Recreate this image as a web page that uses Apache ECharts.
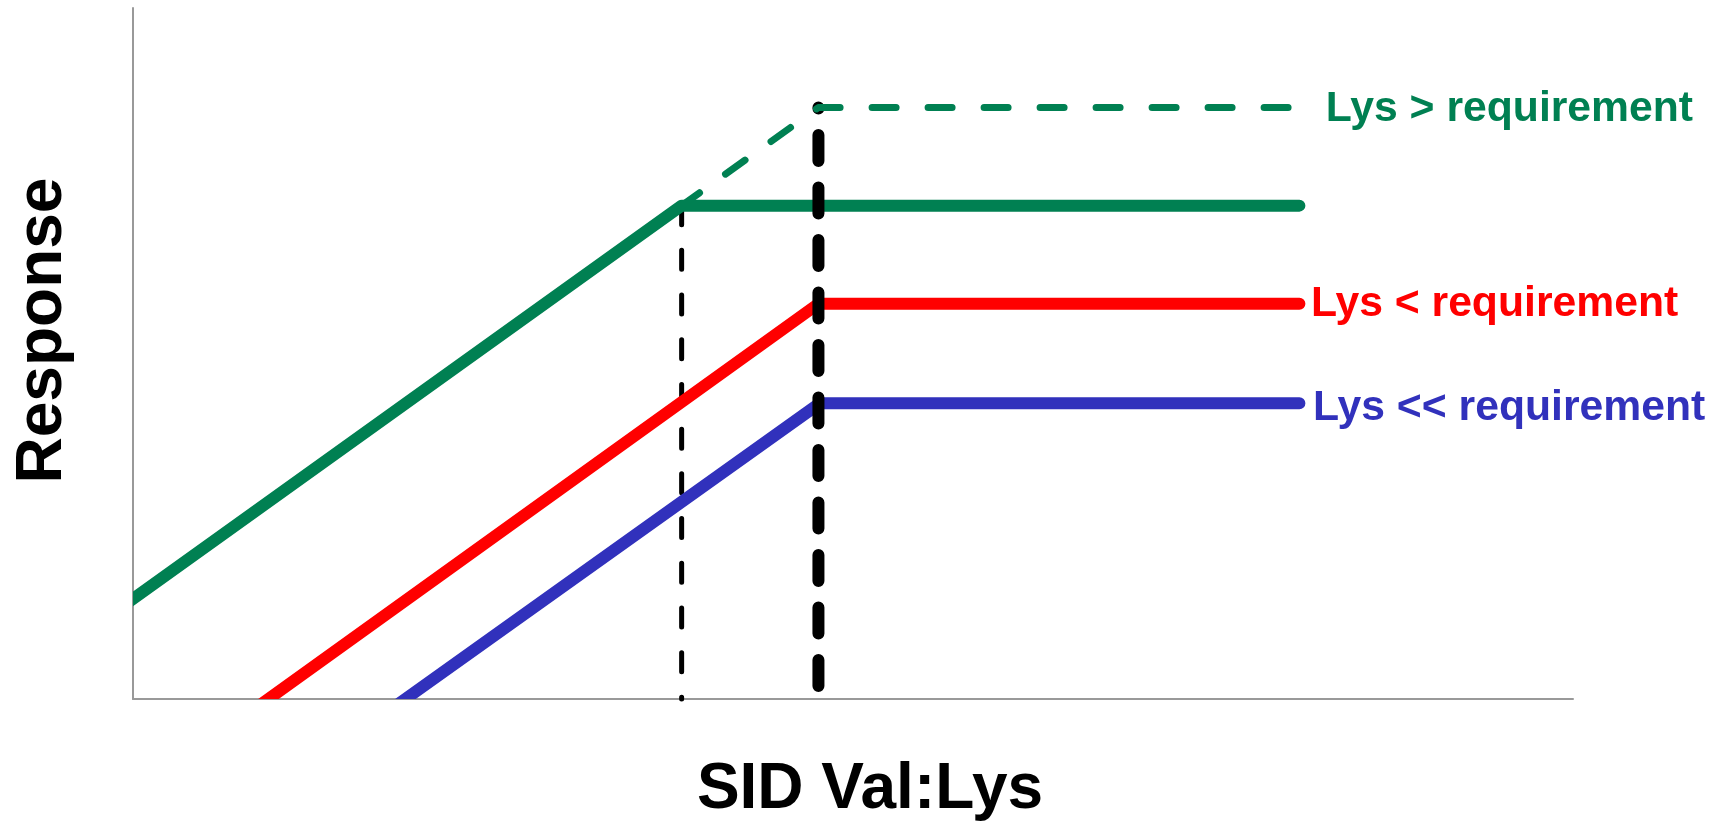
<!DOCTYPE html>
<html>
<head>
<meta charset="utf-8">
<script src="https://cdn.jsdelivr.net/npm/echarts@6/dist/echarts.min.js"></script>
<style>
html,body{margin:0;padding:0;background:#fff;}
#chart{width:1727px;height:823px;}
</style>
</head>
<body>
<div id="chart"></div>
<script>
// ---- data (abstract units: x 0..100, y 0..100) ----
const greenSolid  = [[-3, 10.0], [38.1, 71.4], [81.0, 71.4]];
const greenDashed = [[38.1, 71.4], [47.6, 85.6], [80.4, 85.6]];
const redLine     = [[7.4, -3], [47.6, 57.2], [81.0, 57.2]];
const blueLine    = [[16.9, -3], [47.7, 42.8], [81.0, 42.8]];
const thinGuide   = [[38.1, 71.4], [38.1, 0]];
const thickGuide  = [[47.6, 85.6], [47.6, 0]];
const seriesLabels = ['Lys > requirement', 'Lys < requirement', 'Lys << requirement'];
const axisTitles = ['SID Val:Lys', 'Response'];

const FONT = '"Liberation Sans", Arial, Helvetica, sans-serif';
const GREEN = '#008052', RED = '#FF0000', BLUE = '#3131BC', BLACK = '#000000';

function lineRender(points, st) {
  return function (params, api) {
    return {
      type: 'polyline',
      shape: { points: points.map(p => api.coord(p)) },
      style: {
        stroke: st.color, lineWidth: st.width, fill: null,
        lineCap: 'round', lineJoin: 'round',
        lineDash: st.dash || null, lineDashOffset: st.dashOffset || 0
      }
    };
  };
}

function labelRender(points, text, color, dx, dy) {
  return function (params, api) {
    const end = api.coord(points[points.length - 1]);
    return {
      type: 'text',
      x: end[0] + dx, y: end[1] + dy,
      style: {
        text: text, fill: color,
        font: 'bold 42.7px ' + FONT,
        align: 'left', verticalAlign: 'middle'
      }
    };
  };
}

function lineSeries(name, points, st, z, clip) {
  return {
    name: name, type: 'custom', coordinateSystem: 'cartesian2d',
    data: [points[points.length - 1]], z: z, clip: clip, silent: true,
    renderItem: lineRender(points, st)
  };
}

function labelSeries(name, points, text, color, dx, dy) {
  return {
    name: name, type: 'custom', coordinateSystem: 'cartesian2d',
    data: [points[points.length - 1]], z: 5, clip: false, silent: true,
    renderItem: labelRender(points, text, color, dx, dy)
  };
}

const chart = echarts.init(document.getElementById('chart'), null, { renderer: 'canvas' });
chart.setOption({
  animation: false,
  backgroundColor: '#ffffff',
  grid: { left: 133, right: 154, top: 8, bottom: 124, containLabel: false },
  xAxis: {
    type: 'value', min: 0, max: 100,
    axisLine: { show: true, onZero: false, lineStyle: { color: '#999999', width: 2 } },
    axisTick: { show: false }, axisLabel: { show: false }, splitLine: { show: false }
  },
  yAxis: {
    type: 'value', min: 0, max: 100,
    axisLine: { show: true, onZero: false, lineStyle: { color: '#999999', width: 2 } },
    axisTick: { show: false }, axisLabel: { show: false }, splitLine: { show: false }
  },
  graphic: [
    { type: 'text', x: 870, y: 790, style: { text: axisTitles[0], fill: '#000', font: 'bold 64px ' + FONT, align: 'center', verticalAlign: 'middle' } },
    { type: 'text', x: 43, y: 330.5, rotation: Math.PI / 2, style: { text: axisTitles[1], fill: '#000', font: 'bold 64px ' + FONT, align: 'center', verticalAlign: 'middle' } }
  ],
  series: [
    lineSeries('thin', thinGuide, { color: BLACK, width: 5, dash: [19, 25.7], dashOffset: 0 }, 1, false),
    lineSeries('green', greenSolid, { color: GREEN, width: 12 }, 2, true),
    lineSeries('red', redLine, { color: RED, width: 12 }, 2, true),
    lineSeries('blue', blueLine, { color: BLUE, width: 12 }, 2, true),
    lineSeries('thick', thickGuide, { color: BLACK, width: 12, dash: [26, 26.5], dashOffset: 25 }, 3, false),
    lineSeries('greenDashed', greenDashed, { color: GREEN, width: 7, dash: [24, 32], dashOffset: 2 }, 4, false),
    labelSeries('labelGreen', greenDashed, seriesLabels[0], GREEN, 35, 2),
    labelSeries('labelRed', redLine, seriesLabels[1], RED, 11.5, 0),
    labelSeries('labelBlue', blueLine, seriesLabels[2], BLUE, 13.6, 5)
  ]
});
</script>
</body>
</html>
